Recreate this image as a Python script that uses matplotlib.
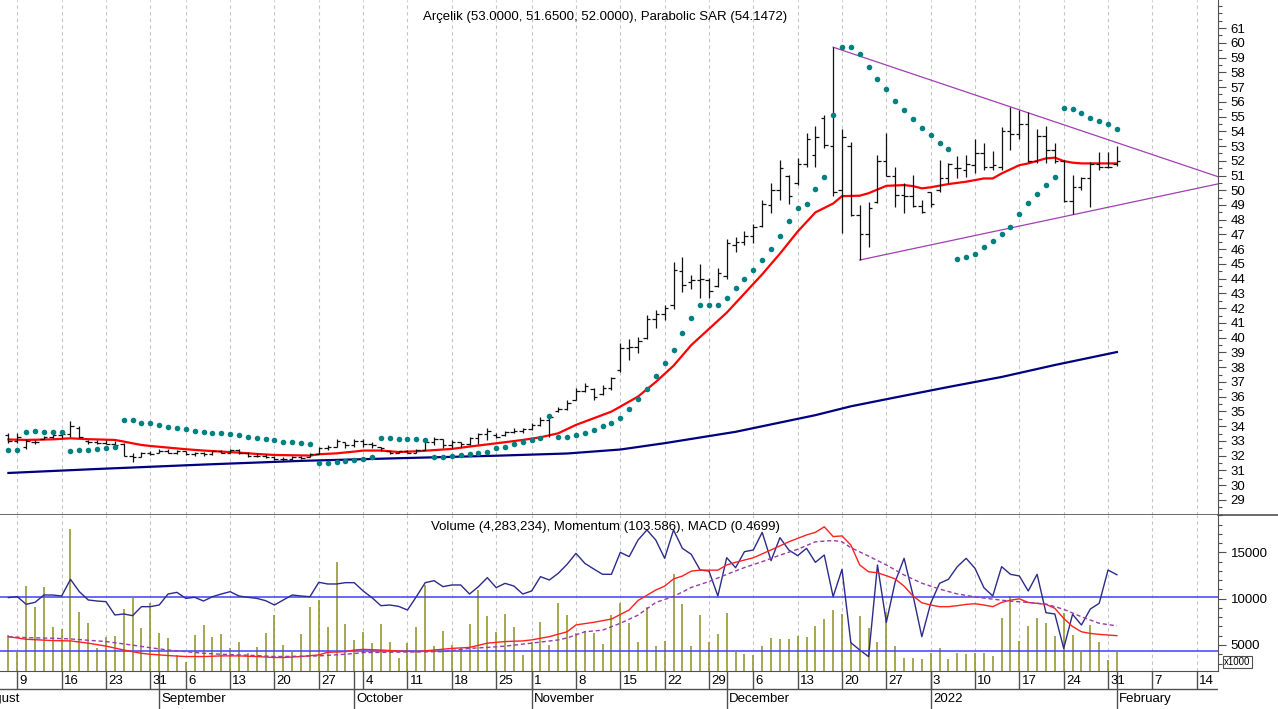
import numpy as np
import matplotlib
matplotlib.use('Agg')
from matplotlib import pyplot as plt
from matplotlib.ticker import FixedLocator, MultipleLocator
from matplotlib.lines import Line2D

plt.rcParams['font.family'] = ['Liberation Sans', 'DejaVu Sans']
FS = 9.5

# Trading day index: 0 = 6 Aug 2021 ... 125 = 1 Feb 2022
high = [33.52, 33.52, 33.11, 33.07, 33.34, 33.63, 33.63, 34.38, 34.02, 33.07,
        33.07, 33.07, 33.02, 32.84, 32.21, 32.28, 32.35, 32.44, 32.44, 32.39,
        32.32, 32.28, 32.28, 32.35, 32.39, 32.44, 32.44, 32.28, 32.16, 32.09,
        31.98, 31.94, 31.98, 31.98, 32.16, 32.62, 32.73, 33.11, 32.96, 33.11,
        33.11, 32.96, 32.62, 32.35, 32.35, 32.39, 32.44, 32.96, 33.29, 33.11,
        33.07, 32.96, 33.29, 33.57, 33.86, 33.52, 33.68, 33.86, 33.86, 34.20,
        34.65, 34.76, 35.28, 35.78, 36.57, 36.91, 36.57, 36.80, 37.36, 39.62,
        39.89, 40.03, 41.54, 41.88, 42.22, 45.16, 45.50, 44.26, 44.98, 44.03,
        44.71, 46.67, 46.85, 47.24, 47.71, 49.34, 50.52, 52.05, 51.04, 52.17,
        53.85, 54.35, 55.10, 59.70, 54.13, 53.29, 49.00, 49.22, 52.39, 53.90,
        51.59, 50.51, 51.03, 49.33, 49.90, 52.05, 51.82, 52.32, 52.39, 53.45,
        53.22, 52.68, 54.31, 55.62, 55.44, 55.32, 54.13, 54.35, 53.22, 52.05,
        51.03, 50.92, 51.93, 52.61, 52.61, 53.00]
low = [32.89, 32.84, 32.44, 32.80, 33.11, 33.18, 33.23, 33.25, 33.18, 32.77,
       32.77, 32.77, 32.66, 31.98, 31.60, 31.89, 32.05, 32.16, 32.16, 32.12,
       32.05, 32.01, 31.98, 32.05, 32.16, 32.21, 32.12, 31.94, 31.89, 31.83,
       31.71, 31.67, 31.71, 31.76, 31.89, 32.12, 32.39, 32.57, 32.50, 32.62,
       32.62, 32.50, 32.35, 32.12, 32.16, 32.16, 32.16, 32.39, 32.73, 32.50,
       32.50, 32.62, 32.73, 32.80, 33.07, 33.18, 33.34, 33.52, 33.52, 33.75,
       34.02, 33.30, 34.99, 35.10, 35.78, 36.35, 35.78, 36.12, 36.46, 37.70,
       38.49, 38.94, 39.89, 40.64, 41.20, 41.93, 43.13, 43.28, 42.67, 42.67,
       43.46, 43.96, 45.84, 46.29, 46.45, 47.49, 48.44, 49.34, 49.07, 50.36,
       51.59, 51.55, 52.84, 49.61, 47.12, 48.25, 45.27, 46.17, 49.11, 50.96,
       48.88, 48.43, 48.88, 48.43, 48.88, 49.90, 50.46, 50.80, 50.92, 51.14,
       51.37, 51.37, 51.37, 52.72, 53.45, 51.93, 51.82, 51.82, 51.82, 49.22,
       48.39, 50.01, 48.88, 51.37, 51.48, 51.65]
opn = [33.4, 33.0, 32.6, 32.9, 33.15, 33.3, 33.4, 33.5, 33.9, 33.0,
       32.9, 32.85, 32.8, 32.8, 32.0, 31.9, 32.2, 32.2, 32.3, 32.2,
       32.3, 32.1, 32.2, 32.1, 32.3, 32.2, 32.4, 32.2, 32.0, 32.0,
       31.9, 31.8, 31.75, 31.9, 31.9, 32.15, 32.5, 32.6, 32.9, 32.7,
       33.0, 32.8, 32.6, 32.3, 32.2, 32.3, 32.2, 32.4, 32.9, 33.1,
       32.7, 32.9, 32.8, 33.2, 33.5, 33.4, 33.4, 33.6, 33.7, 33.8,
       34.1, 34.4, 35.0, 35.2, 35.8, 36.4, 36.5, 36.2, 36.6, 37.8,
       39.3, 39.4, 40.0, 41.3, 41.6, 42.2, 44.5, 43.8, 43.9, 43.9,
       43.5, 44.2, 46.3, 46.5, 46.9, 47.6, 49.0, 50.0, 51.0, 50.5,
       51.8, 52.4, 54.9, 53.0, 50.0, 53.0, 48.3, 47.0, 49.2, 52.0,
       51.0, 49.7, 49.6, 48.9, 49.9, 50.0, 50.8, 51.5, 51.4, 51.7,
       52.5, 51.6, 51.6, 54.0, 53.8, 54.5, 52.0, 53.7, 52.7, 52.0,
       49.3, 50.2, 50.8, 51.8, 51.6, 51.8]
close = [33.0, 33.3, 33.0, 32.95, 33.3, 33.4, 33.5, 34.0, 33.3, 32.9,
         32.85, 32.8, 32.7, 32.0, 31.9, 32.2, 32.1, 32.3, 32.2, 32.3,
         32.1, 32.2, 32.1, 32.3, 32.2, 32.4, 32.2, 32.0, 32.0, 31.9,
         31.8, 31.75, 31.9, 31.85, 32.1, 32.5, 32.6, 33.0, 32.7, 33.0,
         32.8, 32.7, 32.5, 32.2, 32.3, 32.2, 32.4, 32.9, 33.1, 32.7,
         32.9, 32.8, 33.2, 33.5, 33.7, 33.3, 33.6, 33.7, 33.8, 34.1,
         34.4, 34.6, 35.2, 35.6, 36.4, 36.7, 36.0, 36.6, 37.3, 39.3,
         39.4, 39.8, 41.3, 41.6, 42.0, 44.6, 43.6, 43.9, 44.0, 43.2,
         44.4, 46.4, 46.5, 46.9, 47.5, 49.1, 50.0, 51.5, 49.6, 51.8,
         53.5, 53.6, 53.1, 49.9, 53.6, 48.3, 47.0, 48.8, 52.0, 51.0,
         49.7, 49.6, 48.9, 48.5, 49.1, 50.85, 51.8, 51.5, 51.75, 52.5,
         51.6, 51.7, 54.0, 53.8, 54.5, 52.0, 53.7, 52.7, 52.0, 49.3,
         50.2, 50.8, 51.8, 51.6, 51.6, 52.0]
sar = [32.39, 32.39, 33.63, 33.68, 33.59, 33.59, 33.59, 32.35, 32.39, 32.39,
       32.46, 32.50, 32.62, 34.42, 34.42, 34.24, 34.20, 34.09, 33.97, 33.86,
       33.79, 33.70, 33.63, 33.57, 33.52, 33.47, 33.41, 33.29, 33.23, 33.14,
       33.07, 32.96, 32.91, 32.84, 32.77, 31.49, 31.49, 31.60, 31.64, 31.71,
       31.80, 31.94, 33.18, 33.18, 33.14, 33.14, 33.11, 33.08, 31.89, 31.94,
       31.98, 32.05, 32.12, 32.16, 32.28, 32.50, 32.62, 32.77, 32.96, 33.07,
       33.23, 34.70, 33.25, 33.25, 33.41, 33.52, 33.75, 34.02, 34.24, 34.54,
       35.15, 35.83, 36.50, 37.41, 38.27, 39.20, 40.35, 41.32, 42.20, 42.22,
       42.22, 42.67, 43.35, 44.00, 44.60, 45.27, 46.05, 46.90, 47.94, 48.78,
       49.06, 50.06, 50.92, 55.10, 59.69, 59.69, 59.21, 58.37, 57.54, 56.86,
       56.07, 55.44, 54.83, 54.24, 53.72, 53.22, 52.77, 45.31, 45.45, 45.67,
       46.17, 46.58, 47.03, 47.53, 48.39, 49.15, 49.74, 50.35, 50.92, 55.59,
       55.50, 55.21, 54.92, 54.71, 54.46, 54.15]

ma_idx = [0, 2, 5, 7, 9, 12, 13, 14, 15, 16, 18, 20, 22, 24, 26, 28, 30, 32, 34, 35,
          37, 39, 40, 42, 44, 46, 50, 52, 55, 58, 60, 62, 64, 66, 68, 69, 71, 73, 75, 77,
          79, 81, 83, 85, 87, 89, 91, 92, 93, 94, 96, 97, 99, 101, 102, 103, 104, 106, 108, 110,
          111, 112, 114, 115, 117, 118, 119, 120, 121, 125]
ma_val = [33.1, 33.07, 33.11, 33.18, 33.12, 33.07, 32.96, 32.84, 32.73, 32.66,
          32.55, 32.44, 32.35, 32.28, 32.21, 32.12, 32.05, 32.03, 32.01, 32.10,
          32.16, 32.28, 32.35, 32.35, 32.25, 32.30, 32.46, 32.62, 32.84, 33.07,
          33.25, 33.52, 34.09, 34.54, 34.99, 35.33, 36.01, 37.0, 38.1, 39.5,
          40.6, 41.7, 43.0, 44.3, 45.7, 47.2, 48.5, 48.8, 49.1, 49.6,
          49.63, 49.8, 50.3, 50.35, 50.28, 50.13, 50.2, 50.42, 50.58, 50.8,
          50.8, 51.14, 51.7, 51.82, 52.16, 52.21, 51.98, 51.87, 51.82, 51.82]
ma200_idx = [0, 10, 22, 33, 44, 55, 63, 69, 74, 82, 91, 95, 100, 106, 112, 118, 125]
ma200_val = [30.83, 31.1, 31.4, 31.65, 31.83, 32.0, 32.15, 32.42, 32.85, 33.62,
             34.75, 35.35, 35.95, 36.66, 37.34, 38.15, 39.03]

# triangle trend lines (index, price)
upper_idx = [93, 136.4]
upper_val = [59.7, 50.92]
lower_idx = [96, 136.4]
lower_val = [45.27, 50.43]

volume = [6080, 4280, 11370, 9070, 11230, 6910, 6690, 17530, 8560, 7380,
          4710, 5900, 5970, 8920, 10110, 6800, 9570, 6300, 5720, 3920,
          3130, 6080, 7120, 5830, 6190, 4640, 5360, 4140, 4780, 6300,
          8240, 5000, 4280, 6190, 9070, 9860, 6910, 13930, 7230, 5580,
          6440, 5250, 7270, 5320, 3560, 5180, 6910, 11480, 4900, 6550,
          5000, 4640, 7270, 10940, 8130, 6370, 8350, 6910, 3920, 5360,
          7480, 5000, 9540, 8240, 6300, 6510, 6260, 5140, 8240, 9500,
          7340, 5360, 9140, 4890, 5400, 12630, 9430, 4890, 8280, 5360,
          6220, 8490, 4280, 4000, 3920, 4890, 5720, 5610, 5610, 6010,
          5860, 7090, 7770, 8810, 8380, 5360, 8130, 6800, 5360, 8600,
          4890, 3560, 3560, 3490, 4170, 4640, 3450, 4170, 4060, 4100,
          4170, 3810, 7880, 10290, 5470, 7050, 7880, 7410, 5930, 8490,
          6080, 4280, 7160, 5320, 3420, 4283]
momentum = [99.9, 100.05, 98.82, 99.14, 100.32, 100.32, 100.16, 102.85, 100.86, 99.52,
            99.35, 99.25, 97.10, 97.26, 96.99, 98.44, 98.44, 98.71, 100.48, 100.75,
            99.78, 99.95, 99.35, 100.05, 100.48, 100.86, 100.16, 99.95, 99.78, 99.41,
            98.71, 99.52, 100.32, 100.16, 100.05, 102.37, 102.10, 102.10, 102.31, 102.31,
            100.97, 99.89, 98.60, 98.71, 98.49, 97.90, 100.05, 102.31, 102.63, 101.67,
            101.94, 101.94, 100.48, 101.67, 103.12, 101.51, 102.20, 101.77, 100.48, 100.97,
            103.28, 102.74, 103.82, 105.27, 107.04, 105.43, 104.52, 103.66, 103.66, 107.20,
            106.51, 109.19, 110.81, 109.19, 106.24, 110.81, 107.85, 106.88, 104.35, 104.19,
            100.16, 106.34, 104.73, 107.31, 107.58, 110.43, 105.86, 109.57, 107.58, 106.67,
            107.85, 105.59, 106.77, 100.05, 104.46, 92.63, 91.45, 90.38, 105.16, 95.91,
            102.47, 106.24, 100.32, 93.60, 98.98, 102.20, 102.85, 104.89, 106.24, 104.62,
            101.51, 100.16, 104.89, 103.66, 103.39, 100.97, 103.66, 97.47, 97.26, 91.72,
            97.21, 95.48, 98.06, 98.98, 104.35, 103.586]
macd_idx = [0, 2, 5, 7, 9, 11, 13, 14, 15, 16, 18, 20, 22, 24, 26, 28, 30, 31, 33, 35,
            36, 38, 39, 40, 42, 44, 46, 48, 50, 52, 54, 56, 58, 59, 61, 63, 64, 66, 68, 70,
            71, 73, 74, 75, 76, 77, 78, 80, 81, 82, 84, 86, 88, 90, 91, 92, 93, 94, 95, 96,
            97, 98, 99, 100, 101, 102, 103, 104, 105, 106, 107, 108, 109, 110, 111, 112, 113,
            114, 115, 116, 117, 118, 119, 120, 121, 122, 123, 124, 125]
macd_val = [0.44, 0.36, 0.32, 0.31, 0.24, 0.15, 0.03, -0.02, -0.07, -0.10,
            -0.14, -0.17, -0.17, -0.15, -0.15, -0.17, -0.20, -0.20, -0.17, -0.12,
            -0.04, -0.02, 0.03, 0.05, 0.03, 0.00, -0.02, 0.03, 0.08, 0.11,
            0.24, 0.29, 0.31, 0.34, 0.44, 0.59, 0.80, 0.88, 0.98, 1.26,
            1.55, 1.87, 1.99, 2.21, 2.30, 2.45, 2.48, 2.48, 2.64, 2.72,
            2.86, 3.10, 3.35, 3.56, 3.64, 3.81, 3.51, 3.53, 3.25, 2.64,
            2.43, 2.40, 2.31, 2.21, 1.99, 1.69, 1.48, 1.41, 1.36, 1.36,
            1.39, 1.43, 1.45, 1.41, 1.36, 1.49, 1.56, 1.60, 1.49, 1.46,
            1.43, 1.31, 1.00, 0.75, 0.59, 0.54, 0.51, 0.49, 0.4699]
signal_idx = [0, 2, 5, 7, 11, 14, 16, 18, 20, 22, 24, 26, 28, 30, 33, 35, 38, 40, 45, 49,
              52, 54, 56, 59, 62, 63, 65, 67, 69, 71, 73, 75, 77, 79, 81, 83, 85, 87, 89, 91,
              93, 94, 95, 97, 99, 101, 103, 105, 107, 109, 111, 113, 115, 117, 119, 121, 123, 125]
signal_val = [0.44, 0.41, 0.39, 0.37, 0.29, 0.18, 0.10, 0.03, -0.02, -0.07,
              -0.10, -0.12, -0.14, -0.17, -0.16, -0.15, -0.10, -0.05, -0.03, -0.02,
              0.08, 0.11, 0.15, 0.24, 0.34, 0.40, 0.59, 0.64, 0.85, 1.10,
              1.49, 1.67, 1.95, 2.13, 2.35, 2.56, 2.74, 2.94, 3.12, 3.35,
              3.39, 3.35, 3.17, 2.91, 2.64, 2.33, 2.08, 1.90, 1.75, 1.66,
              1.59, 1.53, 1.49, 1.44, 1.28, 1.05, 0.85, 0.77]

# x axis: weekly ticks and month starts (trading day index)
week_pos = [1, 6, 11, 16, 20, 25, 30, 35, 40, 45, 50, 55, 59, 64, 69, 74, 79,
            84, 89, 94, 99, 104, 109, 114, 119, 124, 129, 134]
week_lbl = ['9', '16', '23', '31', '6', '13', '20', '27', '4', '11', '18', '25',
            '1', '8', '15', '22', '29', '6', '13', '20', '27', '3', '10', '17',
            '24', '31', '7', '14']
month_pos = [-3.6, 17, 39, 59, 81, 104, 125]
month_lbl = ['August', 'September', 'October', 'November', 'December', '2022', 'February']

title_top = 'Arçelik (53.0000, 51.6500, 52.0000), Parabolic SAR (54.1472)'
title_low = 'Volume (4,283,234), Momentum (103.586), MACD (0.4699)'

W, H = 1278, 709
fig = plt.figure(figsize=(W / 100, H / 100), dpi=100, facecolor='white')
xr = 1218 / W
ax1 = fig.add_axes([0, (H - 515) / H, xr, 515 / H])
ax2 = fig.add_axes([0, (H - 671) / H, xr, 156 / H])
ax3 = fig.add_axes([0, 0, xr, (H - 671) / H])
axm = ax2.twinx()
axd = ax2.twinx()
xlim = (-0.95, 136.4)
idx = np.arange(len(close))
axis_col = '#505050'
grid_kw = dict(color='#c4c4c4', lw=0.8, linestyles=(0, (3, 3)), zorder=0)

# ---- price panel
ax1.set_xlim(*xlim)
ax1.set_ylim(27.98, 62.9)
ax1.vlines(week_pos, 27.98, 62.9, **grid_kw)
ax1.plot(ma200_idx, ma200_val, color='#000080', lw=1.6, zorder=2)
ax1.plot(ma_idx, ma_val, color='#ff0000', lw=1.6, zorder=3)
ax1.vlines(idx, low, high, color='#111111', lw=0.9, zorder=4)
ax1.hlines(opn, idx - 0.4, idx, color='#111111', lw=0.9, zorder=4)
ax1.hlines(close, idx, idx + 0.4, color='#111111', lw=0.9, zorder=4)
ax1.plot(idx, sar, 'o', color='#008080', ms=4, mec='none', zorder=5)
ax1.plot(upper_idx, upper_val, color='#a040b0', lw=0.9, zorder=3)
ax1.plot(lower_idx, lower_val, color='#a040b0', lw=0.9, zorder=3)

ax1.yaxis.tick_right()
ax1.yaxis.set_major_locator(FixedLocator(range(29, 62)))
ax1.yaxis.set_minor_locator(MultipleLocator(0.5))
ax1.tick_params(axis='y', which='major', direction='out', length=6, width=0.8,
                color=axis_col, labelsize=FS, pad=3)
ax1.tick_params(axis='y', which='minor', direction='out', length=3, width=0.8, color=axis_col)
ax1.tick_params(axis='x', bottom=False, labelbottom=False)
for s in ['left', 'top']:
    ax1.spines[s].set_visible(False)
ax1.spines['right'].set_color(axis_col)
ax1.spines['bottom'].set_color(axis_col)
ax1.spines['bottom'].set_linewidth(1.2)

# ---- volume / momentum / macd panel
ax2.set_xlim(*xlim)
ax2.set_ylim(2190, 19040)
ax2.vlines(week_pos, 0, 19040, **grid_kw)
ax2.vlines(idx, 0, volume, color='#8f8f1f', lw=1.1, zorder=2)

axm.set_xlim(*xlim)
axm.set_ylim(100 - 74 / 6.2, 100 + 82 / 6.2)
axm.axhline(100, color='#4040ff', lw=1.1, zorder=3)
axm.plot(idx, momentum, color='#2b2b8c', lw=1.0, zorder=4)
axm.axis('off')

axd.set_xlim(*xlim)
axd.set_ylim(-20 / 32.6, 136 / 32.6)
axd.axhline(0, color='#4040ff', lw=1.1, zorder=3)
axd.plot(macd_idx, macd_val, color='#ff2020', lw=1.0, zorder=4)
axd.plot(signal_idx, signal_val, color='#9a3aaa', lw=1.0, ls=(0, (3, 2)), zorder=4)
axd.axis('off')

ax2.yaxis.tick_right()
ax2.yaxis.set_major_locator(FixedLocator([5000, 10000, 15000]))
ax2.yaxis.set_minor_locator(MultipleLocator(1000))
ax2.tick_params(axis='y', which='major', direction='out', length=6, width=0.8,
                color=axis_col, labelsize=FS, pad=3, left=False, labelleft=False,
                right=True, labelright=True)
ax2.tick_params(axis='y', which='minor', direction='out', length=3, width=0.8,
                color=axis_col, left=False, right=True)
ax2.tick_params(axis='x', bottom=False, labelbottom=False)
for s in ['left', 'top']:
    ax2.spines[s].set_visible(False)
ax2.spines['right'].set_color(axis_col)
ax2.spines['bottom'].set_color(axis_col)

# ---- date strip
ax3.set_xlim(*xlim)
ax3.set_ylim(38, 0)
ax3.axis('off')
ax3.axhline(18, color=axis_col, lw=1.0)
ax3.vlines(week_pos, 0, 18, color=axis_col, lw=1.0)
ax3.vlines(month_pos[1:], 0, 38, color=axis_col, lw=1.0)
for p, t in zip(week_pos, week_lbl):
    ax3.text(p + 0.25, 9.5, t, fontsize=FS, ha='left', va='center')
for p, t in zip(month_pos, month_lbl):
    ax3.text(p + 0.25, 28, t, fontsize=FS, ha='left', va='center')

# titles and extras
fig.text(605 / W, 1 - 17 / H, title_top, fontsize=FS, ha='center', va='center')
fig.text(605 / W, 1 - 527 / H, title_low, fontsize=FS, ha='center', va='center')
fig.text(1224 / W, 1 - 662 / H, 'x1000', fontsize=7, ha='left', va='center',
         bbox=dict(boxstyle='square,pad=0.15', fc='white', ec=axis_col, lw=0.8))
fig.add_artist(Line2D([xr, 1], [(H - 515) / H] * 2, color=axis_col, lw=1.2,
                      transform=fig.transFigure))

fig.savefig('out.png', dpi=100, facecolor='white')
